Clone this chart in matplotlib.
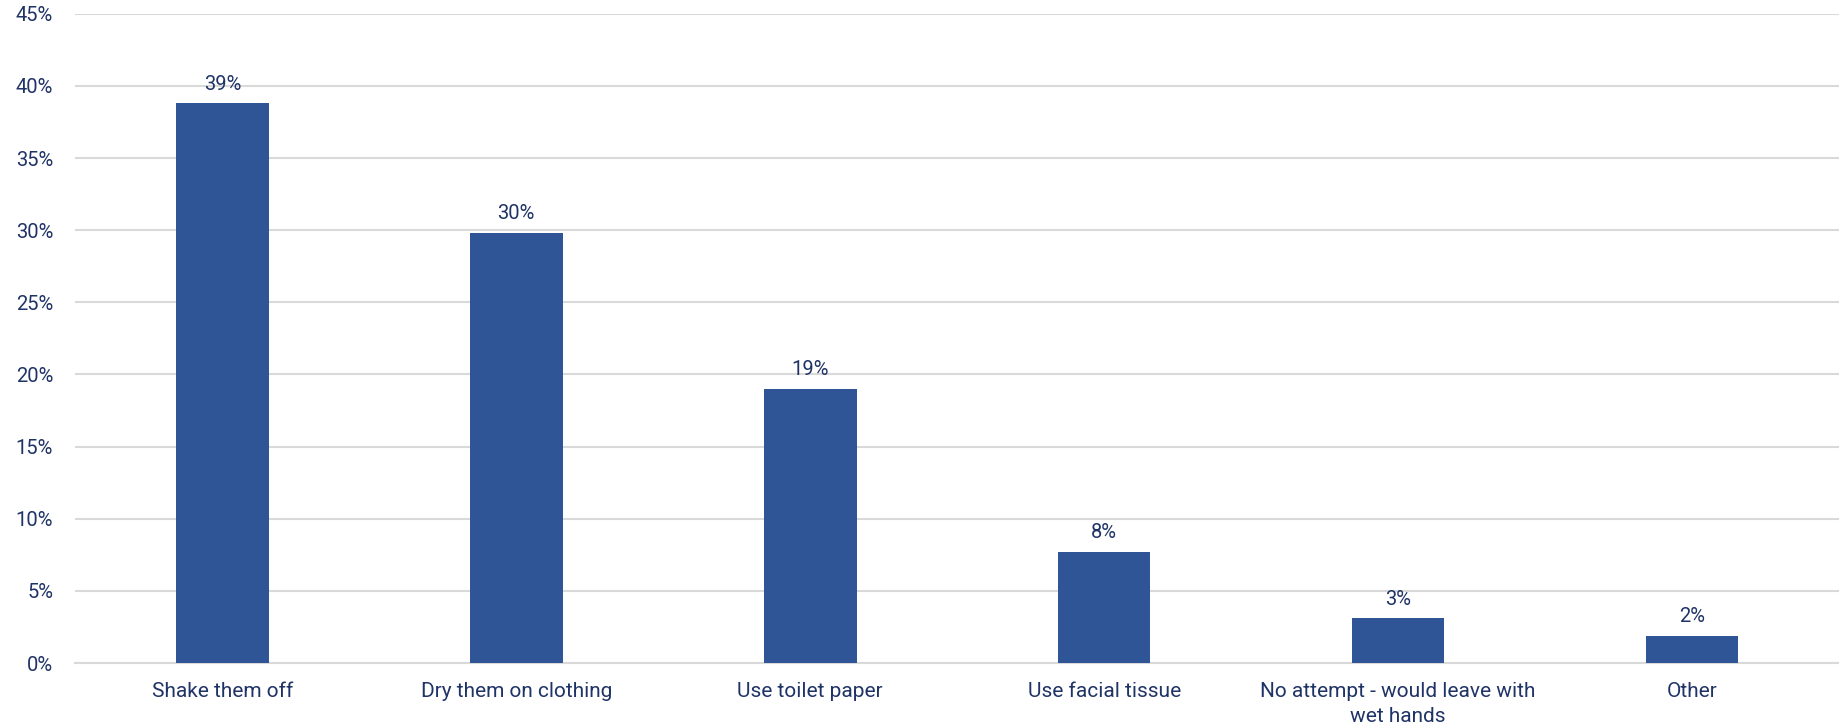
import matplotlib.pyplot as plt
from matplotlib.ticker import MultipleLocator, FuncFormatter

categories = ["Shake them off", "Dry them on clothing", "Use toilet paper",
              "Use facial tissue", "No attempt - would leave with\nwet hands", "Other"]
values = [38.8, 29.8, 19.0, 7.7, 3.1, 1.9]
labels = ["39%", "30%", "19%", "8%", "3%", "2%"]

text_color = "#1F3366"
bar_color = "#2F5597"
grid_color = "#D9D9D9"

plt.rcParams['font.family'] = ['Roboto', 'DejaVu Sans']

fig = plt.figure(figsize=(18.39, 7.27), dpi=100)
ax = fig.add_axes([0.041, 0.088, 0.959, 0.893])

x = range(len(categories))
ax.bar(x, values, width=0.315, color=bar_color, zorder=3)

for i, v in enumerate(values):
    ax.annotate(labels[i], (i, v), xytext=(0, 7), textcoords="offset points",
                ha="center", va="bottom", fontsize=14.5, color=text_color, zorder=4)

ax.set_xlim(-0.5, len(categories) - 0.5)
ax.set_ylim(0, 45)
ax.yaxis.set_major_locator(MultipleLocator(5))
ax.yaxis.set_major_formatter(FuncFormatter(lambda v, p: "%d%%" % v))
ax.set_xticks(list(x))
ax.set_xticklabels(categories, fontsize=15, color=text_color, linespacing=1.35)
ax.tick_params(axis="y", labelsize=14.5, colors=text_color, length=0, pad=16)
ax.tick_params(axis="x", length=0, pad=14)

ax.grid(axis="y", color=grid_color, linewidth=1.5, zorder=0)
for s in ["top", "right", "left"]:
    ax.spines[s].set_visible(False)
ax.spines["bottom"].set_color(grid_color)
ax.spines["bottom"].set_linewidth(1.5)

fig.savefig("out.png", dpi=100)
